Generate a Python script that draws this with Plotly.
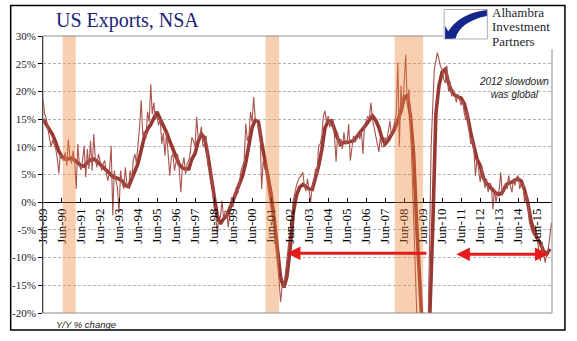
import plotly.graph_objects as go
import pandas as pd

# ---------------- data ----------------
# Monthly Y/Y % change of US exports (NSA), Jun-1989 .. Mar-2016
exports_yoy = [
    18.7, 16.0, 15.2, 13.5, 12.0, 10.0, 11.2, 10.5, 9.6, 8.0,
    5.2, 8.7, 8.2, 7.5, 9.0, 6.6, 11.3, 8.1, 7.0, 9.3,
    7.2, 2.4, 10.5, 6.8, 5.8, 7.5, 10.2, 4.5, 9.6, 6.0,
    11.1, 5.7, 12.3, 8.0, 6.3, 8.7, 7.5, 5.7, 7.0, 7.5,
    5.0, 3.9, 6.0, 10.2, -2.4, 5.7, 4.0, 2.7, -1.8, 5.7,
    3.5, 2.4, 6.3, 3.0, 2.7, 5.7, 4.2, 7.5, 8.7, 7.0,
    10.5, 13.5, 18.4, 12.0, 12.8, 11.5, 16.3, 14.5, 21.3, 15.9,
    18.0, 15.0, 15.3, 13.9, 15.0, 10.5, 12.5, 8.4, 12.6, 9.0,
    4.8, 8.1, 8.7, 5.7, 7.5, 8.7, 6.0, 1.8, 6.5, 8.1,
    5.1, 7.0, 7.5, 9.0, 11.7, 11.1, 10.0, 15.4, 11.5, 12.0,
    13.6, 10.0, 10.5, 12.0, 7.0, 5.7, 6.0, 2.1, -1.0, -2.1,
    -5.7, -2.5, -2.7, 0.3, -3.0, -1.5, -1.8, -4.5, -1.0, 0.9,
    -0.9, 1.0, 2.7, 1.5, 4.0, 5.7, 6.5, 7.5, 14.2, 11.1,
    12.0, 16.3, 14.5, 19.0, 15.0, 14.8, 13.6, 13.0, 2.4, 7.5,
    6.0, 5.7, 2.7, 0.5, -1.0, -3.0, -5.0, -8.0, -10.5, -14.0,
    -18.0, -15.0, -15.3, -13.0, -11.0, -7.5, -6.0, -2.7, 0.3, 2.0,
    3.0, 3.9, 4.5, 4.8, 5.4, 3.0, 2.0, 4.2, 1.8, 0.0,
    3.0, 3.6, 6.0, 5.0, 10.2, 10.5, 12.0, 15.6, 16.5, 14.4,
    15.6, 13.5, 14.7, 15.0, 12.0, 7.3, 12.6, 10.0, 11.4, 9.6,
    12.6, 10.5, 10.8, 14.1, 7.5, 10.0, 12.0, 10.8, 11.5, 12.6,
    11.4, 13.0, 8.7, 13.8, 14.5, 15.5, 15.0, 18.0, 15.0, 13.5,
    12.6, 11.0, 9.1, 11.7, 10.0, 10.0, 11.7, 11.0, 13.0, 14.7,
    12.0, 13.0, 14.4, 16.0, 25.2, 10.2, 21.0, 16.2, 22.0, 26.6,
    17.4, 20.4, 14.4, 4.8, -6.0, -15.0, -21.0, -25.0, -28.0, -30.0,
    -29.0, -28.5, -27.0, -24.0, -8.0, 10.0, 17.0, 24.0, 25.5, 27.0,
    25.8, 24.5, 24.0, 22.2, 21.5, 24.6, 20.0, 21.8, 19.1, 20.3,
    19.4, 18.0, 19.5, 18.7, 17.5, 18.4, 16.0, 14.8, 16.5, 13.0,
    10.5, 11.5, 9.4, 4.8, 7.8, 6.0, 3.6, 6.6, 4.6, 2.6,
    4.2, 1.8, 3.5, 3.0, -1.3, 2.4, 0.0, 1.5, 2.2, 5.4,
    1.2, 2.5, 3.5, 2.4, 4.8, 3.0, 1.8, 4.2, 3.0, 4.5,
    4.8, 2.4, 3.6, 3.5, 0.0, 1.5, 0.5, -3.6, -4.8, -5.5,
    -6.0, -4.2, -6.5, -8.5, -10.6, -7.2, -9.0, -10.9, -9.5, -8.4,
    -6.0, -3.7,
]

# Smoothed series (read every second month), Jun-1989 .. Feb-2016
exports_avg = [
    15.0, 14.0, 13.0, 12.2, 10.8, 9.2, 8.2, 7.8, 7.8, 8.0,
    7.6, 7.2, 6.6, 6.5, 7.2, 7.6, 7.8, 7.4, 6.9, 6.3,
    5.8, 5.2, 4.6, 4.4, 4.2, 3.8, 3.0, 2.8, 4.2, 5.6,
    7.0, 9.4, 11.8, 13.2, 14.0, 15.2, 16.3, 15.0, 13.8, 12.6,
    11.0, 9.6, 7.8, 6.8, 6.2, 6.0, 6.0, 7.8, 8.8, 11.0,
    12.3, 11.6, 8.5, 5.0, 1.5, -2.5, -3.9, -3.0, -2.4, -1.2,
    0.3, 1.8, 3.4, 4.8, 7.2, 10.0, 13.5, 14.8, 14.5, 10.8,
    7.5, 4.5, 1.5, -3.2, -8.6, -13.6, -15.4, -13.5, -8.5, -2.0,
    1.2, 2.7, 3.2, 2.8, 2.4, 2.3, 4.5, 6.5, 9.5, 13.4,
    14.6, 14.7, 13.2, 11.5, 10.5, 10.8, 10.8, 11.0, 11.1, 11.8,
    12.5, 13.2, 14.0, 14.8, 15.6, 14.8, 13.5, 11.6, 10.5, 11.2,
    12.2, 13.2, 14.8, 16.5, 18.8, 19.4, 15.5, 8.5, -5.0, -18.5,
    -25.5, -27.0, -22.0, -5.0, 16.0, 21.0, 23.5, 24.0, 21.5, 20.0,
    19.3, 19.0, 18.8, 17.8, 15.6, 12.6, 9.8, 7.8, 6.6, 4.4,
    3.4, 2.8, 2.1, 1.6, 1.4, 1.8, 2.9, 3.5, 3.6, 4.0,
    4.2, 3.8, 2.2, 0.0, -3.3, -5.2, -6.5, -7.4, -8.8, -9.4,
    -8.4,
]

recessions = [("1990-06-15", "1991-02-20"),
              ("2001-02-15", "2001-11-01"),
              ("2007-12-01", "2009-06-01")]

y_tick_values = [-20, -15, -10, -5, 0, 5, 10, 15, 20, 25, 30]
y_tick_labels = ["-20%", "-15%", "-10%", "-5%", "0%", "5%", "10%", "15%", "20%", "25%", "30%"]

# arrows: (head date, tail date, level %, double-headed)
arrows = [("2002-04-01", "2009-09-01", -9.2, False),
          ("2011-03-01", "2016-02-01", -9.4, True)]

months_yoy = pd.date_range("1989-06-01", periods=len(exports_yoy), freq="MS")
months_avg = pd.date_range("1989-06-01", periods=len(exports_avg), freq="2MS")

# ---------------- layout helpers (pixel -> paper) ----------------
W, H = 577, 341
L, R, T, B = 40, 25, 36, 28
PW, PH = W - L - R, H - T - B


def px(x):
    return (x - L) / PW


def py(y):
    return (H - B - y) / PH


fig = go.Figure()
fig.add_trace(go.Scatter(x=months_avg, y=exports_avg, mode="lines",
                         line=dict(color="#973832", width=3.6), showlegend=False,
                         hoverinfo="skip"))
fig.add_trace(go.Scatter(x=months_yoy, y=exports_yoy, mode="lines",
                         line=dict(color="#a9534e", width=1.1), showlegend=False,
                         hoverinfo="skip"))

shapes = []
# recession shading (semi transparent, above lines)
for s, e in recessions:
    shapes.append(dict(type="rect", xref="x", yref="paper", x0=s, x1=e, y0=0, y1=1,
                       fillcolor="rgb(238,128,52)", opacity=0.38, line=dict(width=0),
                       layer="above"))
# plot border (grey)
shapes.append(dict(type="rect", xref="paper", yref="paper", x0=0, x1=1, y0=0, y1=1,
                   line=dict(color="#8c8c8c", width=1), fillcolor="rgba(0,0,0,0)",
                   layer="above"))
# outer black frame
shapes.append(dict(type="rect", xref="paper", yref="paper", x0=px(7.5), x1=px(565),
                   y0=py(330), y1=py(5.5), line=dict(color="black", width=1.5),
                   fillcolor="rgba(0,0,0,0)", layer="above"))
# logo white box
shapes.append(dict(type="rect", xref="paper", yref="paper", x0=px(442), x1=px(562),
                   y0=py(49), y1=py(7), line=dict(width=0), fillcolor="white",
                   layer="above"))
# logo icon box
shapes.append(dict(type="rect", xref="paper", yref="paper", x0=px(443.5), x1=px(487),
                   y0=py(39), y1=py(9.5), line=dict(color="#b0b0b0", width=1),
                   fillcolor="white", layer="above"))


def path(points):
    out = []
    for cmd, pts in points:
        coords = " ".join(f"{px(a):.5f},{py(b):.5f}" for a, b in pts)
        out.append(f"{cmd} {coords}")
    return " ".join(out) + " Z"


blade = path([("M", [(444.5, 38.5)]),
              ("C", [(449, 25), (462, 13), (486.5, 10)]),
              ("L", [(486.5, 16)]),
              ("C", [(470, 19), (458, 27), (455, 38.5)])])
shapes.append(dict(type="path", xref="paper", yref="paper", path=blade,
                   fillcolor="#14258c", line=dict(width=0), layer="above"))
lower = path([("M", [(444.5, 38.5)]),
              ("L", [(444.5, 26)]),
              ("C", [(447, 30), (449, 34), (452, 38.5)])])
shapes.append(dict(type="path", xref="paper", yref="paper", path=lower,
                   fillcolor="#14258c", line=dict(width=0), layer="above"))

annotations = []
annotations.append(dict(xref="paper", yref="paper", x=px(51), y=py(21), xanchor="left",
                        yanchor="middle", showarrow=False, text="US Exports, NSA",
                        font=dict(family="Liberation Serif", size=20, color="#1c2375")))
for txt, yy in [("Alhambra", 12.5), ("Investment", 27), ("Partners", 41.5)]:
    annotations.append(dict(xref="paper", yref="paper", x=px(491), y=py(yy), xanchor="left",
                            yanchor="middle", showarrow=False, text=txt, borderpad=0,
                            font=dict(family="Liberation Serif", size=13, color="#1e1e30")))
annotations.append(dict(xref="paper", yref="paper", x=px(513.5), y=py(88), xanchor="center",
                        yanchor="middle", showarrow=False,
                        text="<i>2012 slowdown<br>was global</i>",
                        font=dict(family="Liberation Sans", size=10, color="#222222")))
annotations.append(dict(xref="paper", yref="paper", x=px(51), y=py(324), xanchor="left",
                        yanchor="middle", showarrow=False, text="<i>Y/Y % change</i>",
                        font=dict(family="Liberation Sans", size=9.5, color="#222222")))
for head, tail, lvl, both in arrows:
    a = dict(x=head, y=lvl, ax=tail, ay=lvl, xref="x", yref="y", axref="x", ayref="y",
             showarrow=True, text="", arrowhead=2, arrowsize=0.9, arrowwidth=3,
             arrowcolor="#e51a1a")
    if both:
        a.update(arrowside="end+start", startarrowhead=2, startarrowsize=0.9)
    annotations.append(a)

fig.update_layout(
    width=W, height=H,
    margin=dict(l=L, r=R, t=T, b=B, pad=0),
    paper_bgcolor="white", plot_bgcolor="white",
    showlegend=False,
    shapes=shapes, annotations=annotations,
    xaxis=dict(type="date", range=["1989-06-01", "2016-03-12"],
               anchor="free", position=0.4,
               showline=True, linecolor="black", linewidth=1,
               ticks="inside", ticklen=4, tickcolor="black",
               tick0="1989-06-01", dtick="M12", tickformat="%b-%y",
               tickangle=-90,
               tickfont=dict(family="Liberation Serif", size=13, color="black"),
               showgrid=False, zeroline=False),
    yaxis=dict(range=[-20, 30], tickmode="array", tickvals=y_tick_values,
               ticktext=y_tick_labels,
               showgrid=True, gridcolor="#b4b4b4", gridwidth=1, griddash="3px,2px",
               showline=True, linecolor="black", linewidth=1,
               ticks="outside", ticklen=4, tickcolor="black",
               tickfont=dict(family="Liberation Serif", size=11, color="#222222"),
               zeroline=False),
)

fig.write_html("out.html")
